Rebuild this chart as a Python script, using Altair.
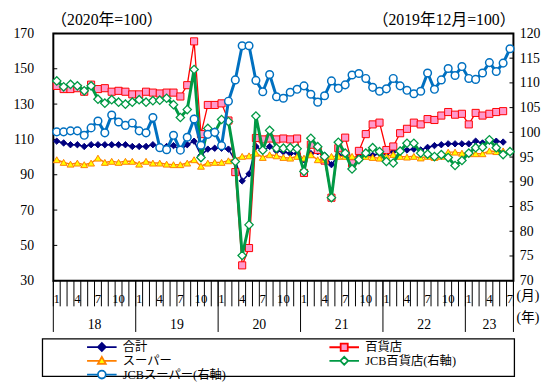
import altair as alt
import pandas as pd

FONT = "Liberation Serif, Noto Sans CJK JP"

# ---------------- data (Jan 2018 .. Jul 2023, monthly) ----------------
START_YEAR = 2018
N_MONTHS = 67

TOTAL = [109, 108, 107, 107, 106, 107, 107, 107, 107, 107, 107, 106,
         106, 106, 107, 106, 106, 106.5, 104, 107, 109, 101, 104.5, 105,
         105, 104.5, 98, 86.5, 90.5, 106, 103.5, 106, 103.5, 103, 102, 102,
         98.5, 102, 103, 101, 95.7, 101, 101, 99, 100, 101, 101, 102,
         102, 103, 104, 104, 104.5, 104, 105.5, 106.5, 107, 107.5, 107.5, 107.5,
         107.5, 109, 108, 109, 109, 108.5, None]

DEPT = [140.3, 138.5, 138.5, 139, 137, 141, 138.5, 139, 137, 137.5, 137, 135.5,
        135.5, 137, 136.5, 136, 136.5, 136.5, 134.3, 140.7, 165.5, 113, 129.5, 129.5,
        130.4, 120.7, 91.5, 38.7, 48.5, 110.8, 110, 110.5, 110, 110.5, 110, 110.5,
        91, 107, 104, 98, 77, 105, 111, 96.5, 103.5, 113, 118.5, 119.5,
        104, 106, 113.5, 116, 119.5, 118.5, 121.5, 121, 123.5, 125.5, 124, 124.5,
        118.5, 125, 123.5, 124.5, 125.5, 126, None]

SUPER = [98.5, 97, 96, 96.6, 95.7, 96.6, 99.4, 97, 97.6, 97, 97.6, 97.6,
         96, 97.6, 96.6, 96.6, 96, 95.7, 95.7, 96.6, 98.5, 94.8, 96.6, 97,
         97, 97.9, 98.9, 100.4, 100.7, 102.2, 99.8, 101.3, 100.7, 99.8, 99.4, 100.4,
         99.4, 101.3, 98.5, 98.5, 100.4, 100.4, 100.4, 100.4, 99.4, 100.4, 99.8, 99.4,
         100.4, 101.5, 100.4, 100, 100.4, 99.5, 100.4, 99.8, 100.4, 102.8, 102.8, 102.2,
         101.9, 101.9, 101.9, 103.5, 103.1, 103.5, None]

JCB_DEPT = [110.4, 109.2, 109.7, 109.4, 108.4, 109.4, 106.7, 105.9, 106.6, 106.1, 105.7, 106.1,
            106.6, 106.1, 106.4, 106.5, 106.9, 105.6, 103, 104.6, 112.7, 94.9, 100.8, 100,
            102.6, 102.2, 94.1, 75.1, 81.3, 103.3, 96.4, 100.4, 96.8, 96.8, 96.9, 96.7,
            92.1, 98.8, 97.1, 95.1, 86.8, 98, 95.8, 92.6, 94.5, 95.8, 96.9, 96.1,
            94.1, 93.8, 96.2, 97.8, 97.8, 95.8, 95.6, 95.1, 95.5, 94.9, 93.3, 94.3,
            95.8, 96.9, 97, 98.5, 96.9, 95.5, 96.1]

JCB_SUPER = [100.1, 100.1, 100.3, 100.3, 99.4, 100.9, 102.3, 99.9, 103.5, 102.1, 101.4, 101.9,
             100.3, 99.9, 103, 96.9, 96.5, 99.4, 96.4, 99, 102.7, 97.4, 99.6, 100,
             97.3, 106.3, 110.6, 117.5, 117.5, 110.5, 108.2, 111.7, 107.2, 106.9, 108.1, 108.7,
             109.4, 107.7, 106.1, 107.4, 110.4, 108.9, 109.6, 111.6, 111.9, 110.9, 109.1, 108.3,
             108.8, 110.9, 109.4, 108.5, 107.8, 108.3, 112, 108.7, 110.6, 112.9, 111.5, 113.3,
             110.9, 110.7, 112, 114.1, 112.3, 114, 116.9]

SERIES_NAMES = ["合計", "百貨店", "スーパー", "JCB百貨店(右軸)", "JCBスーパー(右軸)"]
# order of entries in the legend (filled column by column)
LEGEND_ORDER = ["合計", "スーパー", "JCBスーパー(右軸)", "百貨店", "JCB百貨店(右軸)"]
YEAR_LABELS = ["18", "19", "20", "21", "22", "23"]
MONTH_LABELS = {1: "1", 4: "4", 7: "7", 10: "10"}
LEFT_TICKS = [30, 50, 70, 90, 110, 130, 150, 170]
RIGHT_TICKS = [70, 75, 80, 85, 90, 95, 100, 105, 110, 115, 120]
LEFT_TITLE = "（2020年=100）"
RIGHT_TITLE = "（2019年12月=100）"
MONTH_UNIT = "(月)"
YEAR_UNIT = "(年)"

# ---------------- styles ----------------
W, H = 467, 251
STYLE = {
    "合計": dict(vals=TOTAL, side="left", color="#000080", lw=1.5, shape="diamond",
               fill="#000080", stroke="#000080", sw=1, size=42,
               path="M-3.75,0H3.75M-1,0L0,-1L1,0L0,1Z"),
    "百貨店": dict(vals=DEPT, side="left", color="#FF0000", lw=1.3, shape="square",
                fill="#FF99CC", stroke="#FF0000", sw=1, size=52,
                path="M-3.75,0H-0.9M0.9,0H3.75M-0.9,-0.9H0.9V0.9H-0.9Z"),
    "スーパー": dict(vals=SUPER, side="left", color="#FF8000", lw=1.5, shape="triangle-up",
                 fill="#FFFF00", stroke="#FF8000", sw=1, size=48,
                 path="M-3.75,0H-0.56M0.56,0H3.75M0,-1L1,0.8L-1,0.8Z"),
    "JCB百貨店(右軸)": dict(vals=JCB_DEPT, side="right", color="#009944", lw=3, shape="diamond",
                       fill="white", stroke="#009944", sw=1.3, size=72,
                       path="M-3.75,0H-1M1,0H3.75M-1,0L0,-1L1,0L0,1Z"),
    "JCBスーパー(右軸)": dict(vals=JCB_SUPER, side="right", color="#0070C0", lw=3, shape="circle",
                        fill="white", stroke="#0070C0", sw=1.5, size=60,
                        path="M-3.75,0H-1M1,0H3.75M-1,0A1,1 0 1,0 1,0A1,1 0 1,0 -1,0Z"),
}


def series_df(vals):
    return pd.DataFrame({"t": [i + 0.5 for i, v in enumerate(vals) if v is not None],
                         "v": [v for v in vals if v is not None]})


one = pd.DataFrame({"k": [0]})

X = alt.X("t:Q", scale=alt.Scale(domain=[0, N_MONTHS], nice=False, zero=False), axis=None)
Y_LEFT = alt.Y("v:Q", scale=alt.Scale(domain=[30, 170], nice=False, zero=False),
               axis=alt.Axis(orient="left", values=LEFT_TICKS, ticks=False, domain=False, grid=False,
                             labelFont=FONT, labelFontSize=14, labelColor="black",
                             labelPadding=20, title=None))
Y_RIGHT = alt.Y("v:Q", scale=alt.Scale(domain=[70, 120], nice=False, zero=False),
                axis=alt.Axis(orient="right", values=RIGHT_TICKS, ticks=False, domain=False, grid=False,
                              labelFont=FONT, labelFontSize=14, labelColor="black",
                              labelPadding=6, title=None))

# ---------------- x axis (months / years) ----------------
month_rules = alt.Chart(pd.DataFrame({"t": list(range(N_MONTHS + 1))})).mark_rule(
    color="black", strokeWidth=1).encode(x=X, y=alt.value(H), y2=alt.value(H + 26))

year_bounds = list(range(0, N_MONTHS, 12)) + [N_MONTHS]
year_rules = alt.Chart(pd.DataFrame({"t": year_bounds})).mark_rule(
    color="black", strokeWidth=1).encode(x=X, y=alt.value(H), y2=alt.value(H + 52))

m_rows = [(i + 0.5, MONTH_LABELS[i % 12 + 1]) for i in range(N_MONTHS) if (i % 12 + 1) in MONTH_LABELS]
month_text = alt.Chart(pd.DataFrame(m_rows, columns=["t", "label"])).mark_text(
    font=FONT, fontSize=13, color="black", baseline="middle", align="center").encode(
    x=X, y=alt.value(H + 19), text="label:N")

y_rows = [((year_bounds[k] + year_bounds[k + 1]) / 2, YEAR_LABELS[k]) for k in range(len(YEAR_LABELS))]
year_text = alt.Chart(pd.DataFrame(y_rows, columns=["t", "label"])).mark_text(
    font=FONT, fontSize=14, color="black", baseline="middle", align="center").encode(
    x=X, y=alt.value(H + 45), text="label:N")

unit_m = alt.Chart(one).mark_text(text=MONTH_UNIT, font=FONT, fontSize=14, color="black",
                                  align="left", baseline="middle").encode(x=alt.value(W + 3), y=alt.value(H + 16))
unit_y = alt.Chart(one).mark_text(text=YEAR_UNIT, font=FONT, fontSize=14, color="black",
                                  align="left", baseline="middle").encode(x=alt.value(W + 3), y=alt.value(H + 38))

title_l = alt.Chart(one).mark_text(text=LEFT_TITLE, font=FONT, fontSize=16, color="black",
                                   align="left", baseline="middle").encode(x=alt.value(-2), y=alt.value(-14))
title_r = alt.Chart(one).mark_text(text=RIGHT_TITLE, font=FONT, fontSize=16, color="black",
                                   align="right", baseline="middle").encode(x=alt.value(W + 2), y=alt.value(-14))

# ---------------- axis ticks (inside) ----------------
left_ticks = alt.Chart(pd.DataFrame({"v": LEFT_TICKS})).mark_rule(color="black", strokeWidth=1).encode(
    y=Y_LEFT, x=alt.value(0), x2=alt.value(4))
right_ticks = alt.Chart(pd.DataFrame({"v": RIGHT_TICKS})).mark_rule(color="black", strokeWidth=1).encode(
    y=Y_RIGHT, x=alt.value(W - 4), x2=alt.value(W))

# ---------------- series ----------------
left_layers, right_layers = [], []
for name in SERIES_NAMES:
    s = STYLE[name]
    Y = Y_LEFT if s["side"] == "left" else Y_RIGHT
    base = alt.Chart(series_df(s["vals"]))
    line = base.mark_line(color=s["color"], strokeWidth=s["lw"]).encode(x=X, y=Y)
    pts = base.mark_point(shape=s["shape"], filled=True, size=s["size"], opacity=1,
                          strokeWidth=s["sw"]).encode(
        x=X, y=Y, fill=alt.value(s["fill"]), stroke=alt.value(s["stroke"]))
    (left_layers if s["side"] == "left" else right_layers).extend([line, pts])

# ---------------- legend ----------------
LEG = alt.Legend(orient="none", legendX=34, legendY=312, columns=2, columnPadding=100,
                 rowPadding=-2.7, title=None, padding=0, symbolSize=64, symbolStrokeWidth=1.8,
                 symbolOffset=9, labelOffset=15, labelFont=FONT, labelFontSize=12.5,
                 labelColor="black", symbolFillColor="white", labelLimit=400)
legend_layer = alt.Chart(pd.DataFrame({"series": pd.Series([], dtype="object")})).mark_point(
    filled=True, opacity=1).encode(
    shape=alt.Shape("series:N", scale=alt.Scale(domain=LEGEND_ORDER,
                                                 range=[STYLE[n]["path"] for n in LEGEND_ORDER]), legend=LEG),
    fill=alt.Fill("series:N", scale=alt.Scale(domain=LEGEND_ORDER,
                                               range=[STYLE[n]["fill"] for n in LEGEND_ORDER]), legend=LEG),
    stroke=alt.Stroke("series:N", scale=alt.Scale(domain=LEGEND_ORDER,
                                                   range=[STYLE[n]["color"] for n in LEGEND_ORDER]), legend=LEG),
)

box = alt.Chart(one).mark_rect(fill="transparent", stroke="black", strokeWidth=1.3).encode(
    x=alt.value(-11), x2=alt.value(W + 1), y=alt.value(310), y2=alt.value(348))

left_group = alt.layer(month_rules, year_rules, month_text, year_text, unit_m, unit_y,
                       title_l, title_r, box, legend_layer, left_ticks, *left_layers)
right_group = alt.layer(right_ticks, *right_layers)

chart = alt.layer(left_group, right_group).resolve_scale(y="independent").properties(
    width=W, height=H,
    padding={"left": 46, "top": 23, "right": 29, "bottom": 101},
    autosize=alt.AutoSizeParams(type="none"),
    background="white",
).configure_view(stroke="black", strokeWidth=2)

chart.save("out.html", embed_options={"renderer": "svg", "actions": False})
